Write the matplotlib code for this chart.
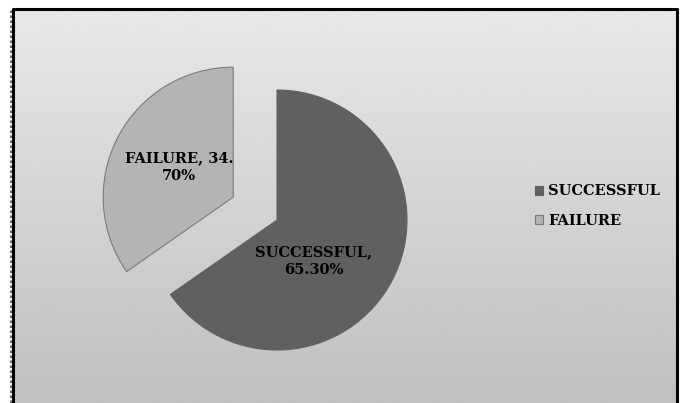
import numpy as np
import matplotlib
matplotlib.use("Agg")
import matplotlib.pyplot as plt

# data
labels = ['SUCCESSFUL', 'FAILURE']
values = [65.30, 34.70]
colors = ['#606060', '#b4b4b4']
explode = [0, 0.38]

W, H = 682, 403
fig = plt.figure(figsize=(W / 100, H / 100), dpi=100)
ax = fig.add_axes([0, 0, 1, 1])

# gradient background inside frame
left, right, top = 13, 677, H - 9
grad = np.linspace(0.91, 0.75, 256).reshape(-1, 1)
ax.imshow(grad, cmap='gray', vmin=0, vmax=1, aspect='auto',
          extent=[left, right, 0, top], origin='upper', zorder=0)
ax.plot([left, left, right, right], [0, top, top, 0], color='black', lw=2.2, zorder=5)
ax.plot([11, 11], [0, H - 10], color='#555555', lw=1.2, ls=(0, (1.5, 1.5)), zorder=5)

# pie (matplotlib explode is in data units, so scale by radius)
cx, cy, r = 277, H - 220, 130
wedges, _ = ax.pie(values, colors=colors, explode=[e * r for e in explode],
                   startangle=90, counterclock=False, center=(cx, cy), radius=r,
                   frame=True, wedgeprops=dict(linewidth=0.8))
wedges[0].set_edgecolor('#606060')
wedges[1].set_edgecolor('#7a7a7a')
ax.set_xlim(0, W)
ax.set_ylim(0, H)
ax.set_aspect('auto')
ax.axis('off')

font = dict(family='DejaVu Serif', weight='bold', size=10.5, color='black')
ax.text(314, H - 261, 'SUCCESSFUL,\n%.2f%%' % values[0], ha='center', va='center',
        linespacing=1.3, zorder=6, **font)
ax.text(179, H - 167, 'FAILURE, 34.\n%s%%' % ('%.2f' % values[1]).split('.')[1],
        ha='center', va='center', linespacing=1.4, zorder=6, **font)

# legend
ax.legend(wedges, labels, loc='center left', bbox_to_anchor=(535 / W, 1 - 206 / H),
          frameon=False, borderpad=0, borderaxespad=0,
          handlelength=0.55, handleheight=0.55, handletextpad=0.35,
          labelspacing=1.05, prop=dict(family='DejaVu Serif', weight='bold', size=10.5))

fig.savefig('out.png', dpi=100)
